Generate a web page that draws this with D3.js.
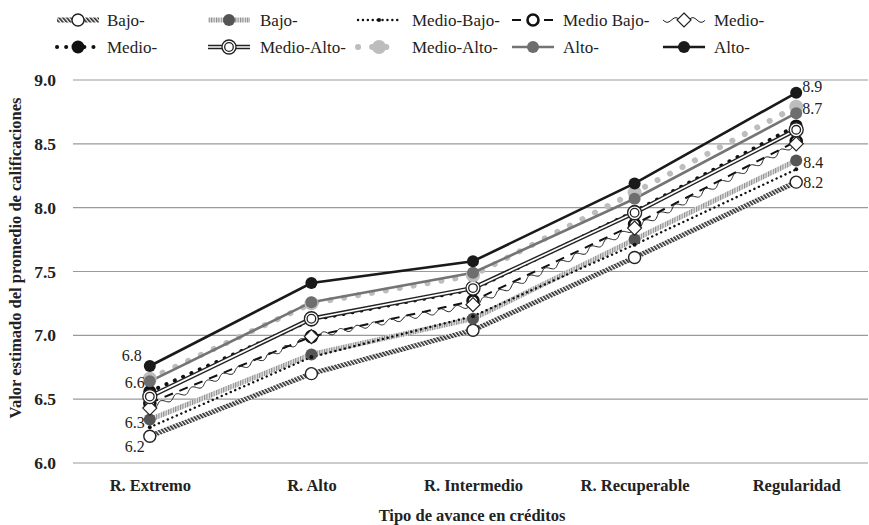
<!DOCTYPE html>
<html>
<head>
<meta charset="utf-8">
<script src="https://cdn.jsdelivr.net/npm/d3@7"></script>
<style>
body { margin: 0; background: #fff; }
text { font-family: "Liberation Serif", "DejaVu Serif", serif; fill: #222; }
</style>
</head>
<body>
<svg id="chart" width="869" height="525"></svg>
<script>
var categories = ['R. Extremo', 'R. Alto', 'R. Intermedio', 'R. Recuperable', 'Regularidad'];
var yTicks = [6.0, 6.5, 7.0, 7.5, 8.0, 8.5, 9.0];

var bajoA      = [6.21, 6.70, 7.04, 7.61, 8.20];
var bajoB      = [6.34, 6.85, 7.13, 7.75, 8.37];
var medioBajoA = [6.28, 6.83, 7.15, 7.71, 8.30];
var medioBajoB = [6.47, 6.99, 7.27, 7.87, 8.52];
var medioA     = [6.43, 6.99, 7.24, 7.84, 8.50];
var medioB     = [6.56, 7.12, 7.36, 7.97, 8.64];
var medioAltoA = [6.52, 7.13, 7.37, 7.96, 8.61];
var medioAltoB = [6.66, 7.25, 7.47, 8.12, 8.79];
var altoA      = [6.64, 7.26, 7.49, 8.07, 8.74];
var altoB      = [6.76, 7.41, 7.58, 8.19, 8.90];

var seriesNames = ['Bajo-', 'Bajo-', 'Medio-Bajo-', 'Medio Bajo-', 'Medio-',
                   'Medio-', 'Medio-Alto-', 'Medio-Alto-', 'Alto-', 'Alto-'];
var seriesValues = [bajoA, bajoB, medioBajoA, medioBajoB, medioA,
                    medioB, medioAltoA, medioAltoB, altoA, altoB];

// which points get a value label: [series index, category index]
var labelled = [[9, 0], [8, 0], [1, 0], [0, 0], [9, 4], [8, 4], [1, 4], [0, 4]];

var svg = d3.select('#chart');

var x = d3.scalePoint()
    .domain(categories)
    .range([69, 877])
    .padding(0.5);

var y = d3.scaleLinear()
    .domain([6, 9])
    .range([463, 80]);

// patterns for the textured strokes
var defs = svg.append('defs');
var hatch = defs.append('pattern')
    .attr('id', 'hatch')
    .attr('patternUnits', 'userSpaceOnUse')
    .attr('width', 3).attr('height', 3)
    .attr('patternTransform', 'rotate(-40)');
hatch.append('rect').attr('width', 3).attr('height', 3).attr('fill', '#fff');
hatch.append('rect').attr('width', 1.7).attr('height', 3).attr('fill', '#2a2a2a');

var stripe = defs.append('pattern')
    .attr('id', 'stripe')
    .attr('patternUnits', 'userSpaceOnUse')
    .attr('width', 2.4).attr('height', 2.4);
stripe.append('rect').attr('width', 2.4).attr('height', 2.4).attr('fill', '#e6e6e6');
stripe.append('rect').attr('width', 1.1).attr('height', 2.4).attr('fill', '#8a8a8a');

// grid
svg.append('g')
    .selectAll('line')
    .data(yTicks)
    .enter()
    .append('line')
    .attr('x1', 73)
    .attr('x2', 868)
    .attr('y1', d => y(d))
    .attr('y2', d => y(d))
    .attr('stroke', '#9a9a9a')
    .attr('stroke-width', 1.2);

var yAxis = d3.axisLeft(y).tickValues(yTicks).tickFormat(d3.format('.1f')).tickSize(0).tickPadding(0);
var yAxisGroup = svg.append('g')
    .attr('transform', 'translate(56,0)')
    .call(yAxis);
yAxisGroup.select('.domain').remove();
yAxisGroup.selectAll('text')
    .style('font-size', '17.5px')
    .style('font-weight', 'bold')
    .attr('fill', '#222');

var xAxis = d3.axisBottom(x).tickSize(0).tickPadding(0);
var xAxisGroup = svg.append('g')
    .attr('transform', 'translate(0,479)')
    .call(xAxis);
xAxisGroup.select('.domain').remove();
xAxisGroup.selectAll('text')
    .style('font-size', '16.5px')
    .style('font-weight', 'bold')
    .attr('fill', '#222');

svg.append('text')
    .attr('x', 472)
    .attr('y', 521)
    .attr('text-anchor', 'middle')
    .style('font-size', '16.5px')
    .style('font-weight', 'bold')
    .text('Tipo de avance en créditos');

svg.append('text')
    .attr('transform', 'translate(21,258) rotate(-90)')
    .attr('text-anchor', 'middle')
    .style('font-size', '16.5px')
    .style('font-weight', 'bold')
    .text('Valor estimado del promedio de calificaciones');

function wavyPath(pts) {
    var out = [];
    pts.forEach((p, i) => {
        if (i == 0) return;
        var a = pts[i - 1], dx = p[0] - a[0], dy = p[1] - a[1];
        var len = Math.sqrt(dx * dx + dy * dy);
        var nx = -dy / len, ny = dx / len;
        for (var s = 0; s <= len; s += 1) {
            var w = 2.3 * Math.sin(2 * Math.PI * s / 17);
            out.push([a[0] + dx * s / len + nx * w, a[1] + dy * s / len + ny * w]);
        }
    });
    return d3.line()(out);
}

function drawLine(g, pts, k) {
    var path = d3.line()(pts);
    if (k == 0) {
        g.append('path').attr('d', path).attr('fill', 'none').attr('stroke', 'url(#hatch)').attr('stroke-width', 5);
    } else if (k == 1) {
        g.append('path').attr('d', path).attr('fill', 'none').attr('stroke', 'url(#stripe)').attr('stroke-width', 5);
    } else if (k == 2) {
        g.append('path').attr('d', path).attr('fill', 'none').attr('stroke', '#111').attr('stroke-width', 2.4)
            .attr('stroke-linecap', 'round').attr('stroke-dasharray', '0.1,4.8');
    } else if (k == 3) {
        g.append('path').attr('d', path).attr('fill', 'none').attr('stroke', '#111').attr('stroke-width', 2)
            .attr('stroke-dasharray', '9,7');
    } else if (k == 4) {
        g.append('path').attr('d', wavyPath(pts)).attr('fill', 'none').attr('stroke', '#222').attr('stroke-width', 1);
    } else if (k == 5) {
        g.append('path').attr('d', path).attr('fill', 'none').attr('stroke', '#111').attr('stroke-width', 4)
            .attr('stroke-linecap', 'round').attr('stroke-dasharray', '0.1,9');
    } else if (k == 6) {
        g.append('path').attr('d', path).attr('fill', 'none').attr('stroke', '#222').attr('stroke-width', 4.5);
        g.append('path').attr('d', path).attr('fill', 'none').attr('stroke', '#fff').attr('stroke-width', 1.7);
    } else if (k == 7) {
        g.append('path').attr('d', path).attr('fill', 'none').attr('stroke', '#bdbdbd').attr('stroke-width', 6)
            .attr('stroke-linecap', 'round').attr('stroke-dasharray', '0.1,14');
    } else if (k == 8) {
        g.append('path').attr('d', path).attr('fill', 'none').attr('stroke', '#747474').attr('stroke-width', 2.6);
    } else {
        g.append('path').attr('d', path).attr('fill', 'none').attr('stroke', '#1a1a1a').attr('stroke-width', 2.6);
    }
}

function drawMarker(g, px, py, k) {
    if (k == 0) {
        g.append('circle').attr('cx', px).attr('cy', py).attr('r', 6).attr('fill', '#fff').attr('stroke', '#222').attr('stroke-width', 1.4);
    } else if (k == 1) {
        g.append('circle').attr('cx', px).attr('cy', py).attr('r', 6).attr('fill', '#555');
    } else if (k == 2) {
        g.append('circle').attr('cx', px).attr('cy', py).attr('r', 2).attr('fill', '#111');
    } else if (k == 3) {
        g.append('circle').attr('cx', px).attr('cy', py).attr('r', 5.5).attr('fill', '#fff').attr('stroke', '#111').attr('stroke-width', 2.6);
    } else if (k == 4) {
        g.append('path').attr('d', `M${px},${py - 7}L${px + 7},${py}L${px},${py + 7}L${px - 7},${py}Z`)
            .attr('fill', '#fff').attr('stroke', '#222').attr('stroke-width', 1.2);
    } else if (k == 5) {
        g.append('circle').attr('cx', px).attr('cy', py).attr('r', 6.5).attr('fill', '#111');
    } else if (k == 6) {
        g.append('circle').attr('cx', px).attr('cy', py).attr('r', 7).attr('fill', '#fff').attr('stroke', '#222').attr('stroke-width', 1.3);
        g.append('circle').attr('cx', px).attr('cy', py).attr('r', 4.3).attr('fill', 'none').attr('stroke', '#222').attr('stroke-width', 1.3);
    } else if (k == 7) {
        g.append('circle').attr('cx', px).attr('cy', py).attr('r', 7).attr('fill', '#bdbdbd');
    } else if (k == 8) {
        g.append('circle').attr('cx', px).attr('cy', py).attr('r', 6).attr('fill', '#6e6e6e');
    } else {
        g.append('circle').attr('cx', px).attr('cy', py).attr('r', 6).attr('fill', '#1a1a1a');
    }
}

var linesGroup = svg.append('g');
seriesValues.forEach((vals, k) => {
    var pts = vals.map((v, i) => [x(categories[i]), y(v)]);
    drawLine(linesGroup, pts, k);
});

var markersGroup = svg.append('g');
seriesValues.forEach((vals, k) => {
    vals.forEach((v, i) => drawMarker(markersGroup, x(categories[i]), y(v), k));
});

// value labels
var labelOffset = { '9,0': [-8, -11], '8,0': [-5, 1], '1,0': [-5, 3], '0,0': [-5, 10],
                    '9,4': [6, -6], '8,4': [6, -5], '1,4': [7, 2], '0,4': [7, 0] };
svg.append('g')
    .selectAll('text')
    .data(labelled)
    .enter()
    .append('text')
    .attr('x', d => x(categories[d[1]]) + labelOffset[d.join(',')][0])
    .attr('y', d => y(seriesValues[d[0]][d[1]]) + labelOffset[d.join(',')][1])
    .attr('dy', '0.35em')
    .attr('text-anchor', d => d[1] == 0 ? 'end' : 'start')
    .style('font-size', '16px')
    .text(d => seriesValues[d[0]][d[1]].toFixed(1));

// legend
var legendSymX = [57, 208, 358, 512, 663];
var legendTextX = [107, 260, 412, 563, 714];
var legendRowY = [20, 47];
var legend = svg.append('g');
seriesNames.forEach((name, k) => {
    var col = k % 5, row = Math.floor(k / 5);
    var x0 = legendSymX[col], ly = legendRowY[row];
    drawLine(legend, [[x0, ly], [x0 + 42, ly]], k);
    drawMarker(legend, x0 + 21, ly, k);
    legend.append('text')
        .attr('x', legendTextX[col])
        .attr('y', ly)
        .attr('dy', '0.35em')
        .style('font-size', '17px')
        .text(name);
});
</script>
</body>
</html>
